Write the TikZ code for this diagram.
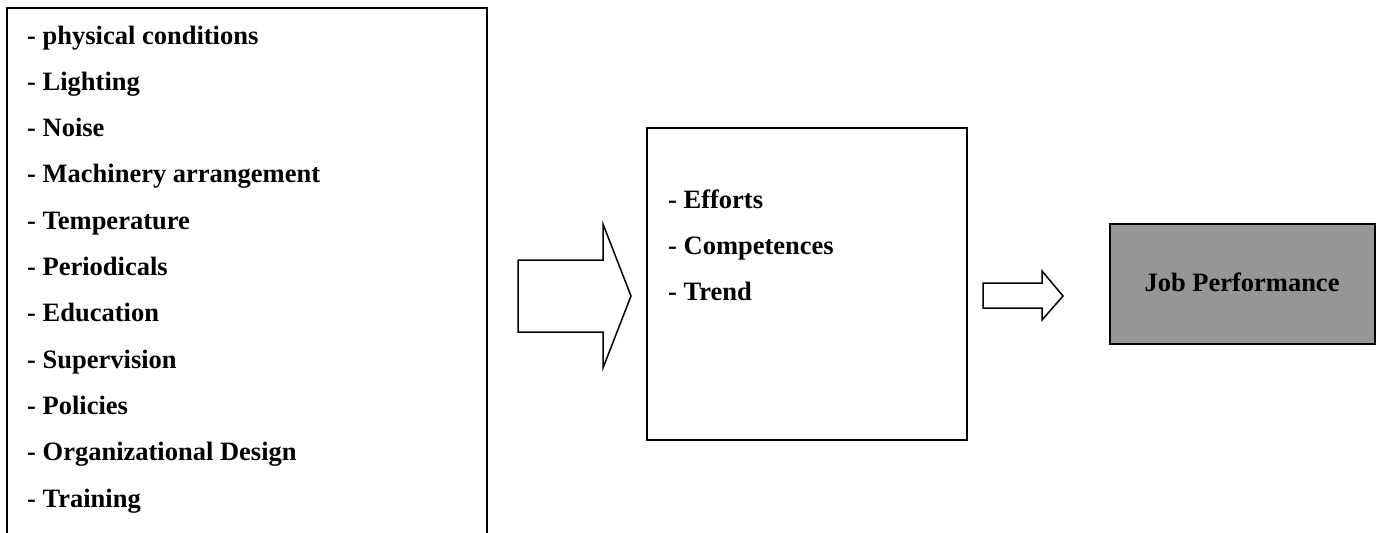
\documentclass[tikz,border=0pt]{standalone}
\usepackage{fontspec}
\setmainfont{Liberation Serif}
\begin{document}
\begin{tikzpicture}[x=1pt,y=-1pt,
  txtfont/.style={font=\fontsize{26.5}{30}\selectfont\bfseries},
  item/.style={txtfont, inner sep=0pt, anchor=base west},
  box/.style={draw, line width=2pt, inner sep=0pt, outer sep=0pt, anchor=north west},
  fatarrow/.style={draw, line width=1.5pt, line join=miter, fill=white}]
\useasboundingbox (0,0) rectangle (1377,533);
\clip (0,0) rectangle (1377,533);
% left box (continues below the picture)
\node[box, minimum width=480pt, minimum height=560pt] (left) at (7,8) {};
\foreach \t [count=\i from 0] in {physical conditions, Lighting, Noise, Machinery arrangement, Temperature, Periodicals, Education, Supervision, Policies, Organizational Design, Training}
  \node[item] (l\i) at (27, 44+46.3*\i) {- \t};
% middle box
\node[box, minimum width=320pt, minimum height=312pt] (mid) at (647,128) {};
\node[item] (m0) at (668,208) {- Efforts};
\node[item] (m1) at (668,254) {- Competences};
\node[item] (m2) at (668,300) {- Trend};
% result box
\node[box, fill={rgb,255:red,150;green,150;blue,150}, minimum width=265pt, minimum height=120pt] (jpbox) at (1110,224) {};
\node[txtfont, inner sep=0pt, anchor=base] (jp) at (1242,291) {Job Performance};
% arrows
\draw[fatarrow] (518,260) -- (603,260) -- (603,224) -- (631,296) -- (603,368) -- (603,332) -- (518,332) -- cycle;
\draw[fatarrow] (983,283) -- (1042,283) -- (1042,271) -- (1063,296) -- (1042,320) -- (1042,308) -- (983,308) -- cycle;
\end{tikzpicture}
\end{document}
